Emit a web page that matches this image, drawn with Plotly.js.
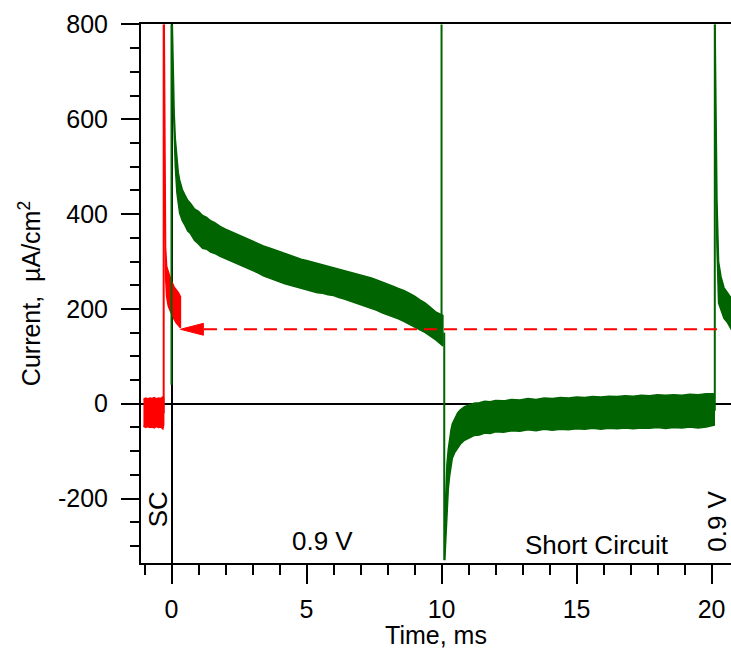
<!DOCTYPE html>
<html><head><meta charset="utf-8">
<script src="https://cdn.plot.ly/plotly-3.0.1.min.js"></script>
<style>html,body{margin:0;padding:0;background:#fff}#chart{width:731px;height:649px}</style>
</head><body><div id="chart"></div>
<script>
// ---- Data (time in ms, current in µA/cm²) ----
// Green: 0.9 V step (0 -> 10.1 ms), noise band upper / lower envelopes
const gAx  = [0.03,0.06,0.10,0.14,0.20,0.25,0.30,0.40,0.50,0.60,0.70,0.85,1.00,1.15,1.30,1.45,1.60,1.80,2.00,2.20,2.40,2.60,2.80,3.00,3.20,3.40,3.60,3.80,4.00,4.20,4.40,4.60,4.80,5.00,5.20,5.40,5.60,5.80,6.00,6.20,6.40,6.60,6.80,7.00,7.20,7.40,7.60,7.80,8.00,8.20,8.40,8.60,8.80,9.00,9.20,9.40,9.60,9.80,10.05];
const gAup = [800,700,612,560,515,488,472,452,440,429,423,411,406,397,393,386,382,374,368,363,358,352,348,343,338,333,329,325,320,316,313,308,305,302,299,295,293,290,287,284,281,278,275,272,269,265,261,257,252,248,243,239,233,227,219,212,203,193,186];
const gAlo = [780,640,560,500,445,420,402,386,376,364,359,345,337,328,326,320,317,311,306,300,296,290,286,281,276,270,265,261,257,253,250,246,243,240,237,234,233,230,228,224,221,217,214,210,206,201,197,192,188,183,179,174,169,162,156,150,142,134,122];
// Green: short circuit (10.1 -> 20.1 ms)
const gBx  = [10.12,10.15,10.20,10.25,10.30,10.35,10.40,10.50,10.60,10.70,10.85,11.00,11.20,11.40,11.60,11.80,12.00,12.30,12.60,12.90,13.20,13.50,13.80,14.10,14.40,14.70,15.00,15.30,15.60,15.90,16.20,16.50,16.80,17.10,17.40,17.70,18.00,18.30,18.60,18.90,19.20,19.50,19.80,20.10];
const gBup = [-250,-190,-128,-96,-70,-55,-42,-29,-19,-13,-6,-3,1,2,5,4,7,6,9,8,11,9,12,11,13,12,14,13,15,14,16,15,17,16,18,17,19,18,19,18,20,19,21,21];
const gBlo = [-330,-300,-232,-180,-152,-130,-115,-102,-93,-85,-77,-72,-67,-66,-62,-63,-59,-60,-57,-58,-55,-57,-54,-56,-54,-55,-53,-54,-52,-54,-52,-53,-51,-53,-51,-52,-50,-52,-50,-51,-49,-51,-49,-45];
// Green: next 0.9 V step (20.1 ms ->)
const gCx  = [20.13,20.16,20.20,20.26,20.35,20.46,20.58,20.74];
const gCup = [800,600,430,300,268,245,236,222];
const gClo = [760,460,330,212,196,180,172,156];
// Green vertical switching spikes
const gSpikeX    = [0.00, 10.00, 10.10, 20.12];
const gSpikeLow  = [40, 150, -330, -15];
const gSpikeHigh = [800, 800, 150, 800];
// Red: short-circuit baseline before the step, then decay after the step
const rNx  = [-1.04,-0.96,-0.88,-0.80,-0.72,-0.64,-0.56,-0.48,-0.40,-0.32,-0.29];
const rNup = [9,12,10,12,11,13,10,12,11,14,12];
const rNlo = [-47,-50,-48,-50,-49,-51,-48,-50,-49,-53,-45];
const rDx  = [-0.27,-0.25,-0.22,-0.18,-0.12,-0.05,0.02,0.10,0.18,0.26,0.33];
const rDup = [800,480,330,290,276,266,256,246,240,234,226];
const rDlo = [700,380,268,226,206,196,186,178,170,165,160];
const rSpikeX = [-0.29], rSpikeLow = [-20], rSpikeHigh = [800];
// Dashed arrow: from end of 0.9 V pulse back to red trace
const arrowLevel = 157, arrowStart = 20.2, arrowTip = 0.33;
// Tick labels
const xTicks = [0,5,10,15,20];
const yTicks = [-200,0,200,400,600,800];

const GREEN = '#006400', RED = '#ff0000';
const FONT = 'Liberation Sans, Arial, sans-serif';

function band(x, up, lo, color){
  return {x: x.concat(x.slice().reverse()), y: up.concat(lo.slice().reverse()),
    type:'scatter', mode:'lines', fill:'toself', fillcolor:color,
    line:{color:color, width:1.5}, hoverinfo:'skip', showlegend:false};
}
function spikes(xs, lows, highs, color){
  const x=[], y=[];
  xs.forEach((v,i)=>{ x.push(v,v,null); y.push(lows[i],highs[i],null); });
  return {x, y, type:'scatter', mode:'lines', line:{color:color, width:2}, showlegend:false, hoverinfo:'skip'};
}

const traces = [
  band(rNx, rNup, rNlo, RED),
  band(rDx, rDup, rDlo, RED),
  spikes(rSpikeX, rSpikeLow, rSpikeHigh, RED),
  band(gAx, gAup, gAlo, GREEN),
  band(gBx, gBup, gBlo, GREEN),
  band(gCx, gCup, gClo, GREEN),
  spikes(gSpikeX, gSpikeLow, gSpikeHigh, GREEN)
];

const headLen = 0.85, headHalf = 12.5;
const layout = {
  width:731, height:649,
  margin:{l:141, r:0, t:24, b:86},
  paper_bgcolor:'#fff', plot_bgcolor:'#fff',
  showlegend:false,
  font:{family:FONT, color:'#000', size:25},
  xaxis:{range:[-1.13,20.72], tickvals:xTicks, ticktext:xTicks.map(String),
    ticks:'outside', ticklen:19, tickwidth:2, tickcolor:'#000',
    minor:{dtick:1, tick0:0, ticks:'outside', ticklen:10, tickwidth:2, tickcolor:'#000'},
    showline:true, linecolor:'#000', linewidth:2, mirror:true,
    showgrid:false, zeroline:true, zerolinecolor:'#000', zerolinewidth:2,
    tickfont:{size:25, family:FONT}, ticklabelstandoff:4,
    title:{text:'Time, ms', font:{size:25, family:FONT}, standoff:0}},
  yaxis:{range:[-336,801], tickvals:yTicks, ticktext:yTicks.map(String),
    ticks:'outside', ticklen:18, tickwidth:2, tickcolor:'#000',
    minor:{dtick:50, tick0:0, ticks:'outside', ticklen:9, tickwidth:2, tickcolor:'#000'},
    showline:true, linecolor:'#000', linewidth:2, mirror:false,
    showgrid:false, zeroline:true, zerolinecolor:'#000', zerolinewidth:2,
    tickfont:{size:25, family:FONT}, ticklabelstandoff:8,
    title:{text:'Current,  µA/cm<sup>2</sup>', font:{size:25, family:FONT}, standoff:10}},
  shapes:[
    {type:'line', xref:'x', yref:'y', x0:arrowStart, x1:arrowTip+headLen, y0:arrowLevel, y1:arrowLevel,
     line:{color:RED, width:2, dash:'13px,7px'}},
    {type:'path', xref:'x', yref:'y',
     path:`M ${arrowTip},${arrowLevel} L ${arrowTip+headLen},${arrowLevel+headHalf} L ${arrowTip+headLen},${arrowLevel-headHalf} Z`,
     fillcolor:RED, line:{color:RED, width:1}}
  ],
  annotations:[
    {text:'SC', x:-0.47, y:-223, xref:'x', yref:'y', showarrow:false, textangle:-90, font:{size:26, family:FONT, color:'#000'}},
    {text:'0.9 V', x:5.6, y:-290, xref:'x', yref:'y', showarrow:false, font:{size:26, family:FONT, color:'#000'}},
    {text:'Short Circuit', x:15.77, y:-299, xref:'x', yref:'y', showarrow:false, font:{size:26, family:FONT, color:'#000'}},
    {text:'0.9 V', x:20.22, y:-248, xref:'x', yref:'y', showarrow:false, textangle:-90, borderpad:0, font:{size:26, family:FONT, color:'#000'}}
  ]
};

Plotly.newPlot('chart', traces, layout, {staticPlot:true, displayModeBar:false});
</script></body></html>
